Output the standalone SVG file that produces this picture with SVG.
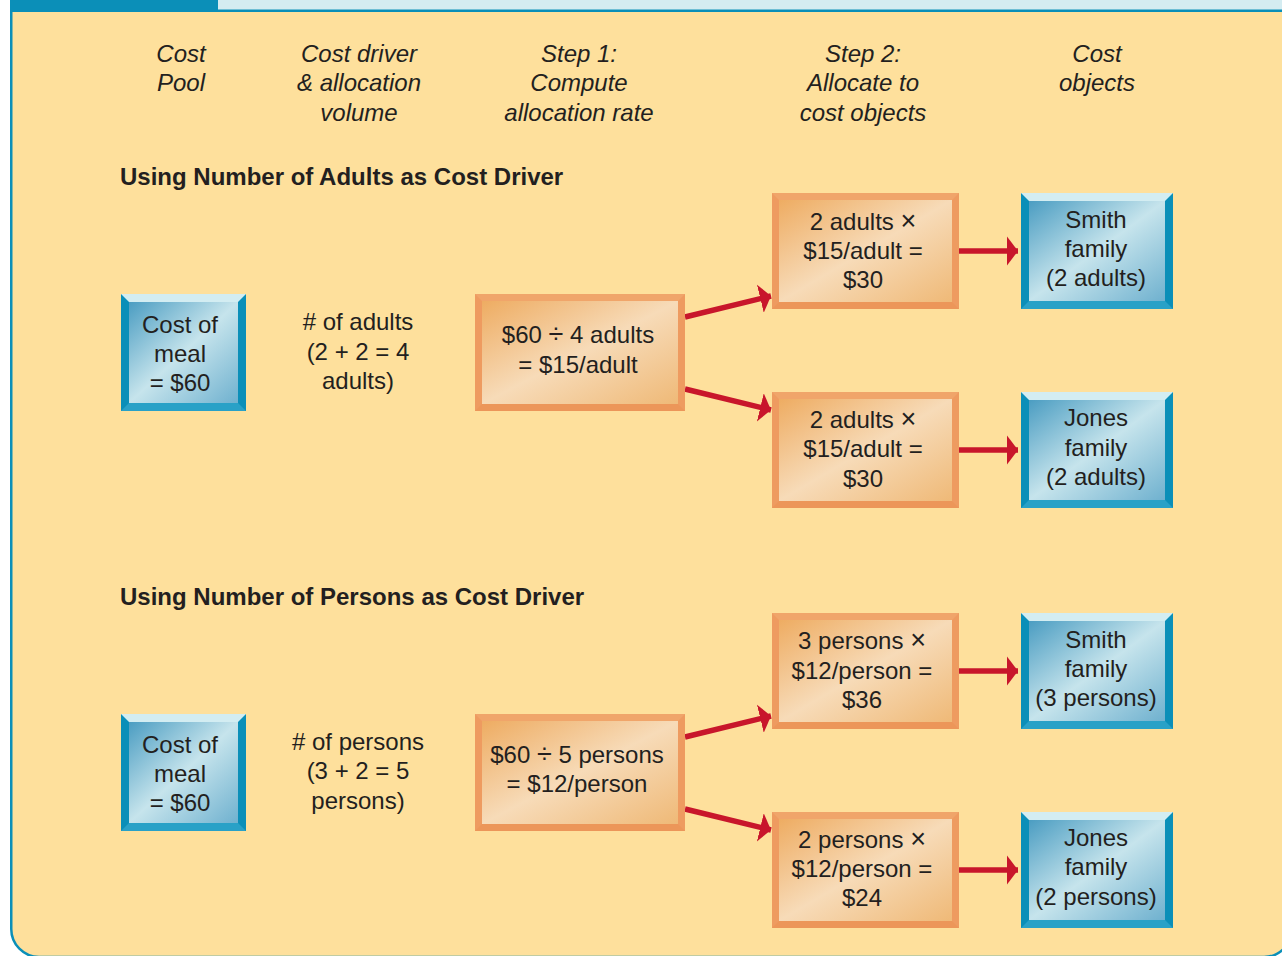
<svg xmlns="http://www.w3.org/2000/svg" width="1282" height="956" viewBox="0 0 1282 956">
  <defs>
    <style>
      text { font-family: "Liberation Sans", Arial, Helvetica, sans-serif; fill: #231f20; }
      .hdr { font-size: 24px; font-style: italic; text-anchor: middle; }
      .ttl { font-size: 24px; font-weight: bold; }
      .lbl { font-size: 24px; text-anchor: middle; }
      .op { font-size: 27px; }
      .conn { stroke: #c8162b; stroke-width: 5.5; fill: none; marker-end: url(#head); }
      .bSide { fill: #0b8fb8; }
      .bTop { fill: #d3edf2; }
      .bBot { fill: #29a1c7; }
      .oSide { fill: #ee9b60; }
      .oTop { fill: #f0a56a; }
      .oBot { fill: #ec9659; }
    </style>
    <linearGradient id="gBlue" x1="0" y1="0" x2="1" y2="1">
      <stop offset="0" stop-color="#4b9dc2"/>
      <stop offset="0.5" stop-color="#c6e4ec"/>
      <stop offset="1" stop-color="#6fb1cf"/>
    </linearGradient>
    <linearGradient id="gOrange" x1="0" y1="0" x2="1" y2="1">
      <stop offset="0" stop-color="#eeac62"/>
      <stop offset="0.5" stop-color="#f7dbb8"/>
      <stop offset="1" stop-color="#efb977"/>
    </linearGradient>
    <marker id="head" markerUnits="userSpaceOnUse" markerWidth="14" markerHeight="32" refX="11" refY="15" orient="auto" viewBox="0 0 14 32">
      <path d="M0,0.5 L11,15 L0,29.5 Z" fill="#c8162b"/>
    </marker>
  </defs>

  <!-- panel frame: square top, rounded bottom corners -->
  <g id="frame">
    <rect x="218" y="0" width="1070" height="10" fill="#d4ecf1"/>
    <path d="M11.25,10.75 H1292 V929 A28,28 0 0 1 1264,957 H39 A28,28 0 0 1 11.25,929 Z" fill="#fee09c" stroke="#0b8fb8" stroke-width="2.5"/>
    <rect x="10" y="0" width="208" height="12" fill="#0b8fb8"/>
  </g>

  <!-- column headings -->
  <g id="headings">
    <text class="hdr" x="181" y="62">Cost</text>
    <text class="hdr" x="181" y="91">Pool</text>
    <text class="hdr" x="359" y="62">Cost driver</text>
    <text class="hdr" x="359" y="91">&amp; allocation</text>
    <text class="hdr" x="359" y="121">volume</text>
    <text class="hdr" x="579" y="62">Step 1:</text>
    <text class="hdr" x="579" y="91">Compute</text>
    <text class="hdr" x="579" y="121">allocation rate</text>
    <text class="hdr" x="863" y="62">Step 2:</text>
    <text class="hdr" x="863" y="91">Allocate to</text>
    <text class="hdr" x="863" y="121">cost objects</text>
    <text class="hdr" x="1097" y="62">Cost</text>
    <text class="hdr" x="1097" y="91">objects</text>
  </g>

  <g id="section-titles">
    <text class="ttl" x="120" y="185">Using Number of Adults as Cost Driver</text>
    <text class="ttl" x="120" y="605">Using Number of Persons as Cost Driver</text>
  </g>

  <!-- connectors -->
  <g id="connectors">
    <line class="conn" x1="685" y1="317" x2="771" y2="296"/>
    <line class="conn" x1="685" y1="389" x2="771" y2="410"/>
    <line class="conn" x1="959" y1="251" x2="1018" y2="251"/>
    <line class="conn" x1="959" y1="450" x2="1018" y2="450"/>
    <line class="conn" x1="685" y1="737" x2="771" y2="716"/>
    <line class="conn" x1="685" y1="809" x2="771" y2="830"/>
    <line class="conn" x1="959" y1="671" x2="1018" y2="671"/>
    <line class="conn" x1="959" y1="870" x2="1018" y2="870"/>
  </g>

  <!-- adults section -->
  <g id="pool-adults">
    <rect class="bSide" x="121" y="294" width="125" height="117"/>
    <polygon class="bTop" points="121,294 246,294 238,302 129,302"/>
    <polygon class="bBot" points="121,411 246,411 238,403 129,403"/>
    <rect x="129" y="302" width="109" height="101" fill="url(#gBlue)"/>
    <text class="lbl" x="180" y="333">Cost of</text>
    <text class="lbl" x="180" y="362">meal</text>
    <text class="lbl" x="180" y="391">= $60</text>
  </g>

  <g id="driver-adults">
    <text class="lbl" x="358" y="330"># of adults</text>
    <text class="lbl" x="358" y="360">(2 + 2 = 4</text>
    <text class="lbl" x="358" y="389">adults)</text>
  </g>

  <g id="rate-adults">
    <rect class="oSide" x="475" y="294" width="210" height="117"/>
    <polygon class="oTop" points="475,294 685,294 678,301 482,301"/>
    <polygon class="oBot" points="475,411 685,411 678,404 482,404"/>
    <rect x="482" y="301" width="196" height="103" fill="url(#gOrange)"/>
    <text class="lbl" x="578" y="343">$60 <tspan class="op">÷</tspan> 4 adults</text>
    <text class="lbl" x="578" y="373">= $15/adult</text>
  </g>

  <g id="alloc-smith-adults">
    <rect class="oSide" x="772" y="193" width="187" height="116"/>
    <polygon class="oTop" points="772,193 959,193 952,200 779,200"/>
    <polygon class="oBot" points="772,309 959,309 952,302 779,302"/>
    <rect x="779" y="200" width="173" height="102" fill="url(#gOrange)"/>
    <text class="lbl" x="863" y="230">2 adults <tspan class="op">×</tspan></text>
    <text class="lbl" x="863" y="259">$15/adult =</text>
    <text class="lbl" x="863" y="288">$30</text>
  </g>

  <g id="alloc-jones-adults">
    <rect class="oSide" x="772" y="392" width="187" height="116"/>
    <polygon class="oTop" points="772,392 959,392 952,399 779,399"/>
    <polygon class="oBot" points="772,508 959,508 952,501 779,501"/>
    <rect x="779" y="399" width="173" height="102" fill="url(#gOrange)"/>
    <text class="lbl" x="863" y="428">2 adults <tspan class="op">×</tspan></text>
    <text class="lbl" x="863" y="457">$15/adult =</text>
    <text class="lbl" x="863" y="487">$30</text>
  </g>

  <g id="smith-adults">
    <rect class="bSide" x="1021" y="193" width="152" height="116"/>
    <polygon class="bTop" points="1021,193 1173,193 1165,201 1029,201"/>
    <polygon class="bBot" points="1021,309 1173,309 1165,301 1029,301"/>
    <rect x="1029" y="201" width="136" height="100" fill="url(#gBlue)"/>
    <text class="lbl" x="1096" y="228">Smith</text>
    <text class="lbl" x="1096" y="257">family</text>
    <text class="lbl" x="1096" y="286">(2 adults)</text>
  </g>

  <g id="jones-adults">
    <rect class="bSide" x="1021" y="392" width="152" height="116"/>
    <polygon class="bTop" points="1021,392 1173,392 1165,400 1029,400"/>
    <polygon class="bBot" points="1021,508 1173,508 1165,500 1029,500"/>
    <rect x="1029" y="400" width="136" height="100" fill="url(#gBlue)"/>
    <text class="lbl" x="1096" y="426">Jones</text>
    <text class="lbl" x="1096" y="456">family</text>
    <text class="lbl" x="1096" y="485">(2 adults)</text>
  </g>

  <!-- persons section -->
  <g id="pool-persons">
    <rect class="bSide" x="121" y="714" width="125" height="117"/>
    <polygon class="bTop" points="121,714 246,714 238,722 129,722"/>
    <polygon class="bBot" points="121,831 246,831 238,823 129,823"/>
    <rect x="129" y="722" width="109" height="101" fill="url(#gBlue)"/>
    <text class="lbl" x="180" y="753">Cost of</text>
    <text class="lbl" x="180" y="782">meal</text>
    <text class="lbl" x="180" y="811">= $60</text>
  </g>

  <g id="driver-persons">
    <text class="lbl" x="358" y="750"># of persons</text>
    <text class="lbl" x="358" y="779">(3 + 2 = 5</text>
    <text class="lbl" x="358" y="809">persons)</text>
  </g>

  <g id="rate-persons">
    <rect class="oSide" x="475" y="714" width="210" height="117"/>
    <polygon class="oTop" points="475,714 685,714 678,721 482,721"/>
    <polygon class="oBot" points="475,831 685,831 678,824 482,824"/>
    <rect x="482" y="721" width="196" height="103" fill="url(#gOrange)"/>
    <text class="lbl" x="577" y="763">$60 <tspan class="op">÷</tspan> 5 persons</text>
    <text class="lbl" x="577" y="792">= $12/person</text>
  </g>

  <g id="alloc-smith-persons">
    <rect class="oSide" x="772" y="613" width="187" height="116"/>
    <polygon class="oTop" points="772,613 959,613 952,620 779,620"/>
    <polygon class="oBot" points="772,729 959,729 952,722 779,722"/>
    <rect x="779" y="620" width="173" height="102" fill="url(#gOrange)"/>
    <text class="lbl" x="862" y="649">3 persons <tspan class="op">×</tspan></text>
    <text class="lbl" x="862" y="679">$12/person =</text>
    <text class="lbl" x="862" y="708">$36</text>
  </g>

  <g id="alloc-jones-persons">
    <rect class="oSide" x="772" y="812" width="187" height="116"/>
    <polygon class="oTop" points="772,812 959,812 952,819 779,819"/>
    <polygon class="oBot" points="772,928 959,928 952,921 779,921"/>
    <rect x="779" y="819" width="173" height="102" fill="url(#gOrange)"/>
    <text class="lbl" x="862" y="848">2 persons <tspan class="op">×</tspan></text>
    <text class="lbl" x="862" y="877">$12/person =</text>
    <text class="lbl" x="862" y="906">$24</text>
  </g>

  <g id="smith-persons">
    <rect class="bSide" x="1021" y="613" width="152" height="116"/>
    <polygon class="bTop" points="1021,613 1173,613 1165,621 1029,621"/>
    <polygon class="bBot" points="1021,729 1173,729 1165,721 1029,721"/>
    <rect x="1029" y="621" width="136" height="100" fill="url(#gBlue)"/>
    <text class="lbl" x="1096" y="648">Smith</text>
    <text class="lbl" x="1096" y="677">family</text>
    <text class="lbl" x="1096" y="706">(3 persons)</text>
  </g>

  <g id="jones-persons">
    <rect class="bSide" x="1021" y="812" width="152" height="116"/>
    <polygon class="bTop" points="1021,812 1173,812 1165,820 1029,820"/>
    <polygon class="bBot" points="1021,928 1173,928 1165,920 1029,920"/>
    <rect x="1029" y="820" width="136" height="100" fill="url(#gBlue)"/>
    <text class="lbl" x="1096" y="846">Jones</text>
    <text class="lbl" x="1096" y="875">family</text>
    <text class="lbl" x="1096" y="905">(2 persons)</text>
  </g>
</svg>
